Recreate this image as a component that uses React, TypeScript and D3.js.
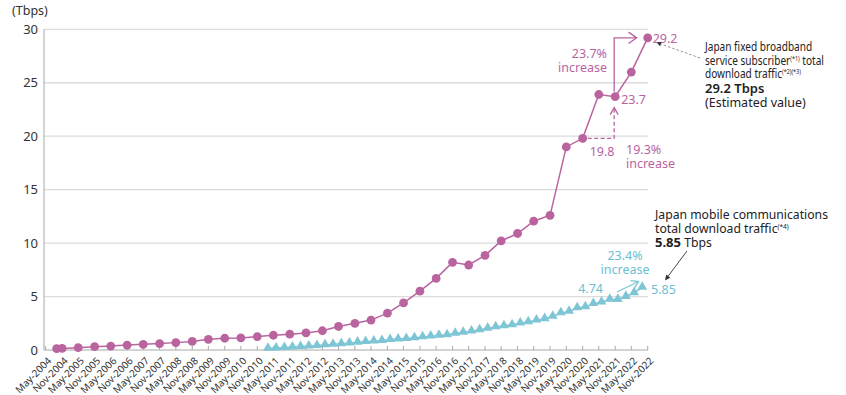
import * as d3 from "d3";

// ---- data ----
const xTickLabels = [
  "May-2004", "Nov-2004", "May-2005", "Nov-2005", "May-2006", "Nov-2006", "May-2007", "Nov-2007",
  "May-2008", "Nov-2008", "May-2009", "Nov-2009", "May-2010", "Nov-2010", "May-2011", "Nov-2011",
  "May-2012", "Nov-2012", "May-2013", "Nov-2013", "May-2014", "Nov-2014", "May-2015", "Nov-2015",
  "May-2016", "Nov-2016", "May-2017", "Nov-2017", "May-2018", "Nov-2018", "May-2019", "Nov-2019",
  "May-2020", "Nov-2020", "May-2021", "Nov-2021", "May-2022", "Nov-2022",
];
const yTicks = [0, 5, 10, 15, 20, 25, 30];

// fixed broadband subscriber download traffic (Tbps)
const fixedDates = [
  "Sep-2004", "Nov-2004", "May-2005", "Nov-2005", "May-2006", "Nov-2006", "May-2007", "Nov-2007",
  "May-2008", "Nov-2008", "May-2009", "Nov-2009", "May-2010", "Nov-2010", "May-2011", "Nov-2011",
  "May-2012", "Nov-2012", "May-2013", "Nov-2013", "May-2014", "Nov-2014", "May-2015", "Nov-2015",
  "May-2016", "Nov-2016", "May-2017", "Nov-2017", "May-2018", "Nov-2018", "May-2019", "Nov-2019",
  "May-2020", "Nov-2020", "May-2021", "Nov-2021", "May-2022", "Nov-2022",
];
const fixedValues = [
  0.12, 0.15, 0.22, 0.31, 0.37, 0.46, 0.53, 0.6,
  0.69, 0.8, 1.0, 1.1, 1.13, 1.26, 1.38, 1.48,
  1.6, 1.8, 2.2, 2.5, 2.8, 3.45, 4.4, 5.5,
  6.7, 8.2, 7.95, 8.85, 10.2, 10.9, 12.05, 12.6,
  19.0, 19.8, 23.9, 23.7, 26.0, 29.2,
];

// mobile communications download traffic (Tbps), quarterly
const mobileDates = [
  "Mar-2011", "Jun-2011", "Sep-2011", "Dec-2011", "Mar-2012", "Jun-2012", "Sep-2012", "Dec-2012",
  "Mar-2013", "Jun-2013", "Sep-2013", "Dec-2013", "Mar-2014", "Jun-2014", "Sep-2014", "Dec-2014",
  "Mar-2015", "Jun-2015", "Sep-2015", "Dec-2015", "Mar-2016", "Jun-2016", "Sep-2016", "Dec-2016",
  "Mar-2017", "Jun-2017", "Sep-2017", "Dec-2017", "Mar-2018", "Jun-2018", "Sep-2018", "Dec-2018",
  "Mar-2019", "Jun-2019", "Sep-2019", "Dec-2019", "Mar-2020", "Jun-2020", "Sep-2020", "Dec-2020",
  "Mar-2021", "Jun-2021", "Sep-2021", "Dec-2021", "Mar-2022", "Jun-2022", "Sep-2022",
];
const mobileValues = [
  0.15, 0.18, 0.22, 0.27, 0.32, 0.36, 0.41, 0.47,
  0.53, 0.58, 0.64, 0.72, 0.78, 0.83, 0.88, 0.96,
  1.02, 1.07, 1.13, 1.22, 1.29, 1.36, 1.42, 1.55,
  1.65, 1.76, 1.87, 2.03, 2.15, 2.26, 2.35, 2.52,
  2.63, 2.78, 2.92, 3.15, 3.46, 3.61, 3.93, 4.02,
  4.33, 4.47, 4.74, 4.72, 5.0, 5.35, 5.85,
];

const PURPLE = "#b9649f";
const CYAN = "#7ec6d6";
const CYAN_TEXT = "#6cbfd2";
const FONT = "'Noto Sans', sans-serif";

const parse = d3.timeParse("%b-%Y");

const chevron = (x: number, y: number, angle: number, len = 9, spread = 32) => {
  // open arrow head pointing along `angle` (degrees) ending at (x, y)
  const a = (angle * Math.PI) / 180;
  const s = (spread * Math.PI) / 180;
  const p1 = [x - len * Math.cos(a - s), y - len * Math.sin(a - s)];
  const p2 = [x - len * Math.cos(a + s), y - len * Math.sin(a + s)];
  return `M${p1[0]},${p1[1]}L${x},${y}L${p2[0]},${p2[1]}`;
};

const filledHead = (x: number, y: number, angle: number, len = 6, spread = 25) => {
  const a = (angle * Math.PI) / 180;
  const s = (spread * Math.PI) / 180;
  const p1 = [x - len * Math.cos(a - s), y - len * Math.sin(a - s)];
  const p2 = [x - len * Math.cos(a + s), y - len * Math.sin(a + s)];
  return `M${p1[0]},${p1[1]}L${x},${y}L${p2[0]},${p2[1]}Z`;
};

export default function App() {
  const x = d3.scaleTime()
    .domain([parse(xTickLabels[0])!, parse(xTickLabels[xTickLabels.length - 1])!])
    .range([45.7, 647.7]);
  const y = d3.scaleLinear().domain([0, 30]).range([350, 29.3]);
  const x0 = 44;
  const x1 = 648;

  const fixed = fixedDates.map((d, i) => ({ date: parse(d)!, value: fixedValues[i] }));
  const mobile = mobileDates.map((d, i) => ({ date: parse(d)!, value: mobileValues[i] }));

  const line = d3.line<{ date: Date; value: number }>()
    .x((d) => x(d.date))
    .y((d) => y(d.value));
  const tri = d3.symbol().type(d3.symbolTriangle).size(42)();

  const angle = (dx: number, dy: number) => (Math.atan2(dy, dx) * 180) / Math.PI;

  // anchor points for annotations
  const pNov20 = [x(parse("Nov-2020")!), y(19.8)];
  const pNov21 = [x(parse("Nov-2021")!), y(23.7)];
  const pNov22 = [x(parse("Nov-2022")!), y(29.2)];

  return (
    <svg width={846} height={395} style={{ position: "absolute", left: 0, top: 0 }} fontFamily={FONT}>
      {/* grid */}
      {yTicks.filter((t) => t > 0).map((t) => (
        <line key={t} x1={x0} x2={x1} y1={y(t)} y2={y(t)} stroke="#dcdcdc" strokeWidth={1.3} />
      ))}
      {/* axes */}
      <line x1={x0} x2={x0} y1={y(30)} y2={y(0)} stroke="#a8a8a8" strokeWidth={1} />
      <line x1={x0} x2={x1} y1={y(0)} y2={y(0)} stroke="#a8a8a8" strokeWidth={1} />
      {yTicks.map((t) => (
        <text key={t} x={38} y={y(t)} dy="0.36em" textAnchor="end" fontSize={13} fill="#333">{t}</text>
      ))}
      <text x={12} y={15} fontSize={12.5} fill="#333">(Tbps)</text>

      {xTickLabels.map((l) => {
        const px = x(parse(l)!);
        return (
          <g key={l}>
            <line x1={px} x2={px} y1={y(0) - 4} y2={y(0)} stroke="#a8a8a8" />
            <text
              transform={`translate(${px + 4},${y(0) + 9}) rotate(-45)`}
              textAnchor="end"
              dy="0.35em"
              fontSize={10}
              fill="#333"
            >{l}</text>
          </g>
        );
      })}

      {/* mobile series */}
      <path d={line(mobile) ?? ""} fill="none" stroke={CYAN} strokeWidth={1.5} />
      {mobile.map((d, i) => (
        <path key={i} d={tri} transform={`translate(${x(d.date)},${y(d.value) - 0.5})`} fill={CYAN} />
      ))}

      {/* fixed broadband series */}
      <path d={line(fixed) ?? ""} fill="none" stroke={PURPLE} strokeWidth={1.5} />
      {fixed.map((d, i) => (
        <circle key={i} cx={x(d.date)} cy={y(d.value)} r={4.4} fill={PURPLE} />
      ))}

      {/* fixed annotations */}
      <path
        d={`M${pNov21[0] - 1},${pNov21[1] - 5}V${pNov22[1]}H${pNov22[0] - 11}`}
        fill="none" stroke={PURPLE} strokeWidth={1.3}
      />
      <path d={chevron(pNov22[0] - 11, pNov22[1], 0, 10, 35)} fill="none" stroke={PURPLE} strokeWidth={1.3} />
      <path
        d={`M${pNov20[0] + 5},${pNov20[1]}H${pNov21[0] - 1}V${pNov21[1] + 11}`}
        fill="none" stroke={PURPLE} strokeWidth={1.3} strokeDasharray="4,2.5"
      />
      <path d={chevron(pNov21[0] - 1, pNov21[1] + 11, -90, 8, 30)} fill="none" stroke={PURPLE} strokeWidth={1.3} />

      <g fontSize={12.5} fill={PURPLE}>
        <text x={pNov22[0] + 5} y={pNov22[1] + 5}>29.2</text>
        <text x={pNov21[0] + 6} y={pNov21[1] + 7}>23.7</text>
        <text x={pNov20[0] + 7} y={pNov20[1] + 18}>19.8</text>
        <text x={607} y={58} textAnchor="end">23.7%</text>
        <text x={607} y={72} textAnchor="end">increase</text>
        <text x={626} y={154} >19.3%</text>
        <text x={626} y={168}>increase</text>
      </g>

      {/* leader to fixed label */}
      <path d={`M700,58L${pNov22[0] + 10},${pNov22[1] + 5}`} stroke="#888" strokeWidth={0.9} strokeDasharray="2.5,2" fill="none" />
      <path d={filledHead(pNov22[0] + 9, pNov22[1] + 4.6, angle(pNov22[0] + 10 - 700, pNov22[1] + 5 - 58), 5, 28)} fill="#333" />

      <g fill="#222" fontSize={12}>
        <text transform="translate(705,51) scale(0.84,1)">Japan fixed broadband</text>
        <text transform="translate(705,65) scale(0.84,1)">
          service subscriber<tspan fontSize={6.5} dy={-4}>(*1)</tspan><tspan dy={4}> total</tspan>
        </text>
        <text transform="translate(705,78) scale(0.84,1)">
          download traffic<tspan fontSize={6.5} dy={-4}>(*2)(*3)</tspan>
        </text>
        <text x={705} y={93} fontSize={13} fontWeight={600}>29.2 Tbps</text>
        <text x={705} y={107} fontSize={12.5}>(Estimated value)</text>
      </g>

      {/* mobile annotations */}
      <g fill="#222" fontSize={12.2}>
        <text x={655} y={219}>Japan mobile communications</text>
        <text x={655} y={233}>
          total download traffic<tspan fontSize={6.5} dy={-4}>(*4)</tspan>
        </text>
        <text x={655} y={247}>
          <tspan fontWeight={700} fontSize={13}>5.85</tspan> Tbps
        </text>
      </g>
      <path d="M687,251L666,279" stroke="#333" strokeWidth={0.9} />
      <path d={filledHead(665, 280.5, angle(665 - 687, 280.5 - 251), 6, 25)} fill="#333" />

      <g fontSize={12.5} fill={CYAN_TEXT}>
        <text x={651} y={294}>5.85</text>
        <text x={603} y={293} textAnchor="end">4.74</text>
        <text x={625} y={260} textAnchor="middle">23.4%</text>
        <text x={625} y={274} textAnchor="middle">increase</text>
      </g>
      <path d="M617,292L638.5,281.5" stroke={CYAN} strokeWidth={1.3} fill="none" />
      <path d={chevron(638.5, 281.5, angle(21.5, -10.5), 8, 32)} fill="none" stroke={CYAN} strokeWidth={1.3} />
    </svg>
  );
}
